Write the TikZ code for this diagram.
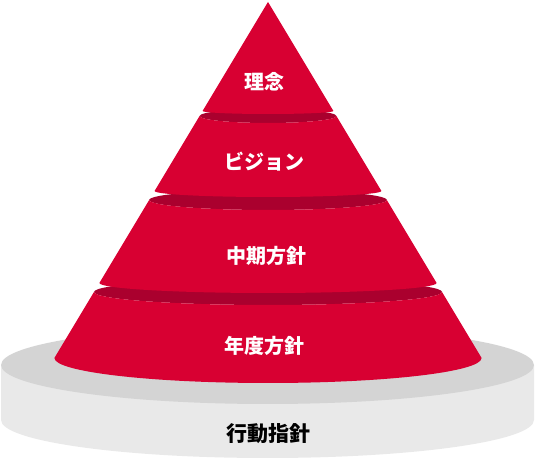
\documentclass[tikz,border=0pt]{standalone}
\usepackage{fontspec}
\setmainfont{Noto Sans CJK JP}
\definecolor{conered}{RGB}{216,0,50}
\definecolor{conedark}{RGB}{170,0,46}
\definecolor{basetop}{RGB}{212,212,212}
\definecolor{baseside}{RGB}{233,233,233}
\tikzset{
  redband/.style={fill=conered, draw=none},
  darktop/.style={fill=conedark, draw=none},
  whitelabel/.style={text=white, font=\bfseries\fontsize{20}{24}\selectfont, inner sep=0pt},
  blacklabel/.style={text=black, font=\bfseries\fontsize{21}{25}\selectfont, inner sep=0pt}
}
\begin{document}
\begin{tikzpicture}[x=1pt,y=1pt]
\useasboundingbox (0,0) rectangle (535,460);
% base cylinder
\fill[baseside] (1,95) -- (1,40) arc[start angle=180, end angle=360, x radius=266.5, y radius=38] -- (534,95) -- cycle;
\fill[basetop] (267.5,95) ellipse[x radius=266.5, y radius=39];
% band 4
\fill[darktop] (268,168) ellipse[x radius=174, y radius=13];
\fill[redband] (94,168) -- (54.4,102) arc[start angle=180, end angle=360, x radius=213.6, y radius=25] -- (442,168) arc[start angle=0, end angle=-180, x radius=174, y radius=13] -- cycle;
% band 3
\fill[darktop] (268,260) ellipse[x radius=118.8, y radius=10];
\fill[redband] (149.2,260) -- (99.4,177) arc[start angle=180, end angle=360, x radius=168.6, y radius=10] -- (386.8,260) arc[start angle=0, end angle=-180, x radius=118.8, y radius=10] -- cycle;
% band 2
\fill[darktop] (268,344) ellipse[x radius=68.4, y radius=7];
\fill[redband] (199.6,344) -- (154.6,269) arc[start angle=180, end angle=360, x radius=113.4, y radius=6] -- (336.4,344) arc[start angle=0, end angle=-180, x radius=68.4, y radius=7] -- cycle;
% band 1
\fill[redband] (268,458) -- (202.6,349) arc[start angle=180, end angle=360, x radius=65.4, y radius=3] -- cycle;
% labels
\node[whitelabel] (l1) at (264,378) {理念};
\node[whitelabel] (l2) at (264,298) {ビジョン};
\node[whitelabel] (l3) at (266,204) {中期方針};
\node[whitelabel] (l4) at (264,114) {年度方針};
\node[blacklabel] (l5) at (268,26) {行動指針};
\end{tikzpicture}
\end{document}
